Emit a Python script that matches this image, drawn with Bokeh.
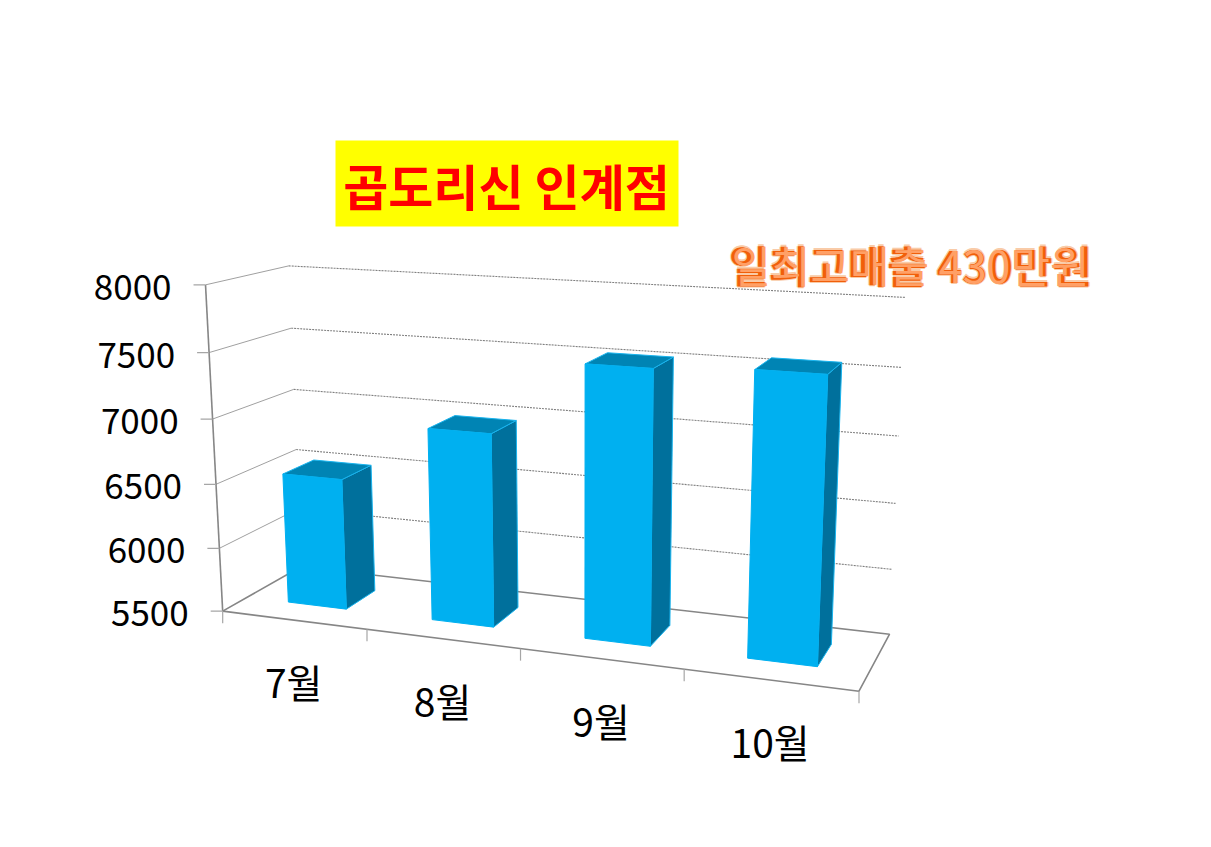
import numpy as np
from bokeh.plotting import figure
from bokeh.core.properties import value
from bokeh.embed import file_html
from bokeh.resources import INLINE

# ---- chart data
categories = ["7월", "8월", "9월", "10월"]
sales = [6525, 6975, 7535, 7575]
tick_values = [5500, 6000, 6500, 7000, 7500, 8000]
title_text = "곱도리신 인계점"
note_text = "일최고매출 430만원"

V_MIN, V_MAX = 5500, 8000
KR = value("Noto Sans CJK KR")

# ---- camera calibration of the oblique 3D view (category, fraction of value span, depth) -> page px
calib = [
    ((0, 0, 0), (223, 609)), ((1, 0, 0), (367, 628)), ((2, 0, 0), (520, 648)),
    ((3, 0, 0), (684, 670)), ((4, 0, 0), (859, 692)),
    ((0, .2, 0), (219, 546)), ((0, .4, 0), (215, 483)), ((0, .6, 0), (211, 419)),
    ((0, .8, 0), (208, 353)), ((0, 1, 0), (205, 286)),
    ((0, 0, 1), (300, 570)), ((0, .2, 1), (298, 509)), ((0, .4, 1), (296, 448)),
    ((0, .6, 1), (293, 388)), ((0, .8, 1), (291, 327)), ((0, 1, 1), (289, 265)),
    ((4, 0, 1), (889, 632)), ((4, .2, 1), (891, 569)), ((4, .4, 1), (895, 503)),
    ((4, .6, 1), (898, 435)), ((4, .8, 1), (901, 367)), ((4, 1, 1), (905, 297)),
]
A, b = [], []
for (x, y, z), (u, w) in calib:
    A.append([x, y, z, 1, 0, 0, 0, 0, -u * x, -u * y, -u * z]); b.append(u)
    A.append([0, 0, 0, 0, x, y, z, 1, -w * x, -w * y, -w * z]); b.append(w)
m = np.linalg.lstsq(np.array(A, float), np.array(b, float), rcond=None)[0]


def proj(cat, val, depth):
    f = (val - V_MIN) / (V_MAX - V_MIN)
    d = m[8] * cat + m[9] * f + m[10] * depth + 1
    return ((m[0] * cat + m[1] * f + m[2] * depth + m[3]) / d,
            (m[4] * cat + m[5] * f + m[6] * depth + m[7]) / d)


def seg(a, b):
    pa, pb = proj(*a), proj(*b)
    return [pa[0], pb[0]], [pa[1], pb[1]]


p = figure(width=1195, height=831, x_range=(0, 1195), y_range=(831, 0),
           output_backend="svg", toolbar_location=None, min_border=0,
           background_fill_color="white", border_fill_color="white")
p.axis.visible = False
p.grid.visible = False
p.outline_line_color = None

AXIS = "#868686"

# back wall gridlines (dotted) and left wall gridlines
for v in tick_values[1:]:
    xs, ys = seg((0, v, 1), (4, v, 1))
    p.line(xs, ys, line_color="#808080", line_width=1.1, line_dash="2 1")
    xs, ys = seg((0, v, 0), (0, v, 1))
    p.line(xs, ys, line_color="#A0A0A0", line_width=1)

# floor
fx, fy = zip(*[proj(0, V_MIN, 0), proj(4, V_MIN, 0), proj(4, V_MIN, 1), proj(0, V_MIN, 1), proj(0, V_MIN, 0)])
p.line(list(fx), list(fy), line_color=AXIS, line_width=1.6)

# value axis + ticks
xs, ys = seg((0, V_MIN, 0), (0, V_MAX, 0))
p.line(xs, ys, line_color=AXIS, line_width=1.6)
lx, ly, lt = [], [], []
for v in tick_values:
    x, y = proj(0, v, 0)
    p.line([x - 12, x], [y, y], line_color="#A6A6A6", line_width=1.2)
    lx.append(x - 34); ly.append(y + 2); lt.append(str(v))
p.text(lx, ly, text=lt, text_font=KR, text_font_size="35px", text_align="right",
       text_baseline="middle", text_color="black")

# category ticks + labels
for i in range(5):
    x, y = proj(i, V_MIN, 0)
    p.line([x, x], [y, y + 12], line_color="#A6A6A6", line_width=1.2)
cx, cy = [], []
for i in range(len(categories)):
    x, y = proj(i + .5, V_MIN, 0)
    cx.append(x); cy.append(y + 61)
p.text(cx, cy, text=categories, text_font=KR, text_font_size="39px", text_align="center",
       text_baseline="middle", text_color="black")

# bars
BAR_W, Z0, Z1 = 0.41, 0.30, 0.70
front, top, side = ([], []), ([], []), ([], [])
for i, v in enumerate(sales):
    a, c = i + .5 - BAR_W / 2, i + .5 + BAR_W / 2
    faces = [
        (side, [(c, V_MIN, Z0), (c, V_MIN, Z1), (c, v, Z1), (c, v, Z0)]),
        (top, [(a, v, Z0), (c, v, Z0), (c, v, Z1), (a, v, Z1)]),
        (front, [(a, V_MIN, Z0), (c, V_MIN, Z0), (c, v, Z0), (a, v, Z0)]),
    ]
    for store, pts in faces:
        q = [proj(*t) for t in pts]
        store[0].append([t[0] for t in q])
        store[1].append([t[1] for t in q])
p.patches(side[0], side[1], fill_color="#00709C", line_color="#19B4EE", line_width=1)
p.patches(top[0], top[1], fill_color="#0084B4", line_color="#19B4EE", line_width=1)
p.patches(front[0], front[1], fill_color="#00B0F0", line_color="#00B0F0", line_width=1)

# title box
p.quad(left=[335], right=[678], top=[140], bottom=[226], fill_color="#FFFF00", line_color=None)
p.text([506], [184], text=[title_text], text_font=KR, text_font_size="49px", text_font_style="bold",
       text_align="center", text_baseline="middle", text_color="#FF0000")

# orange note: pale halo, saturated body, light inner stroke (WordArt look)
NOTE_X, NOTE_Y = 910, 263
for dx, dy in [(-1.2, 0), (1.2, 0), (0, -1.2), (0, 1.2)]:
    p.text([NOTE_X + dx], [NOTE_Y + dy], text=[note_text], text_font=KR, text_font_size="43px",
           text_font_style="bold", text_align="center", text_baseline="middle", text_color="#F9CBA8")
p.text([NOTE_X], [NOTE_Y], text=[note_text], text_font=KR, text_font_size="43px", text_font_style="bold",
       text_align="center", text_baseline="middle", text_color="#F15F0A")
p.text([NOTE_X], [NOTE_Y], text=[note_text], text_font=KR, text_font_size="43px",
       text_align="center", text_baseline="middle", text_color="#FFA066")

open("out.html", "w").write(file_html(p, INLINE))
